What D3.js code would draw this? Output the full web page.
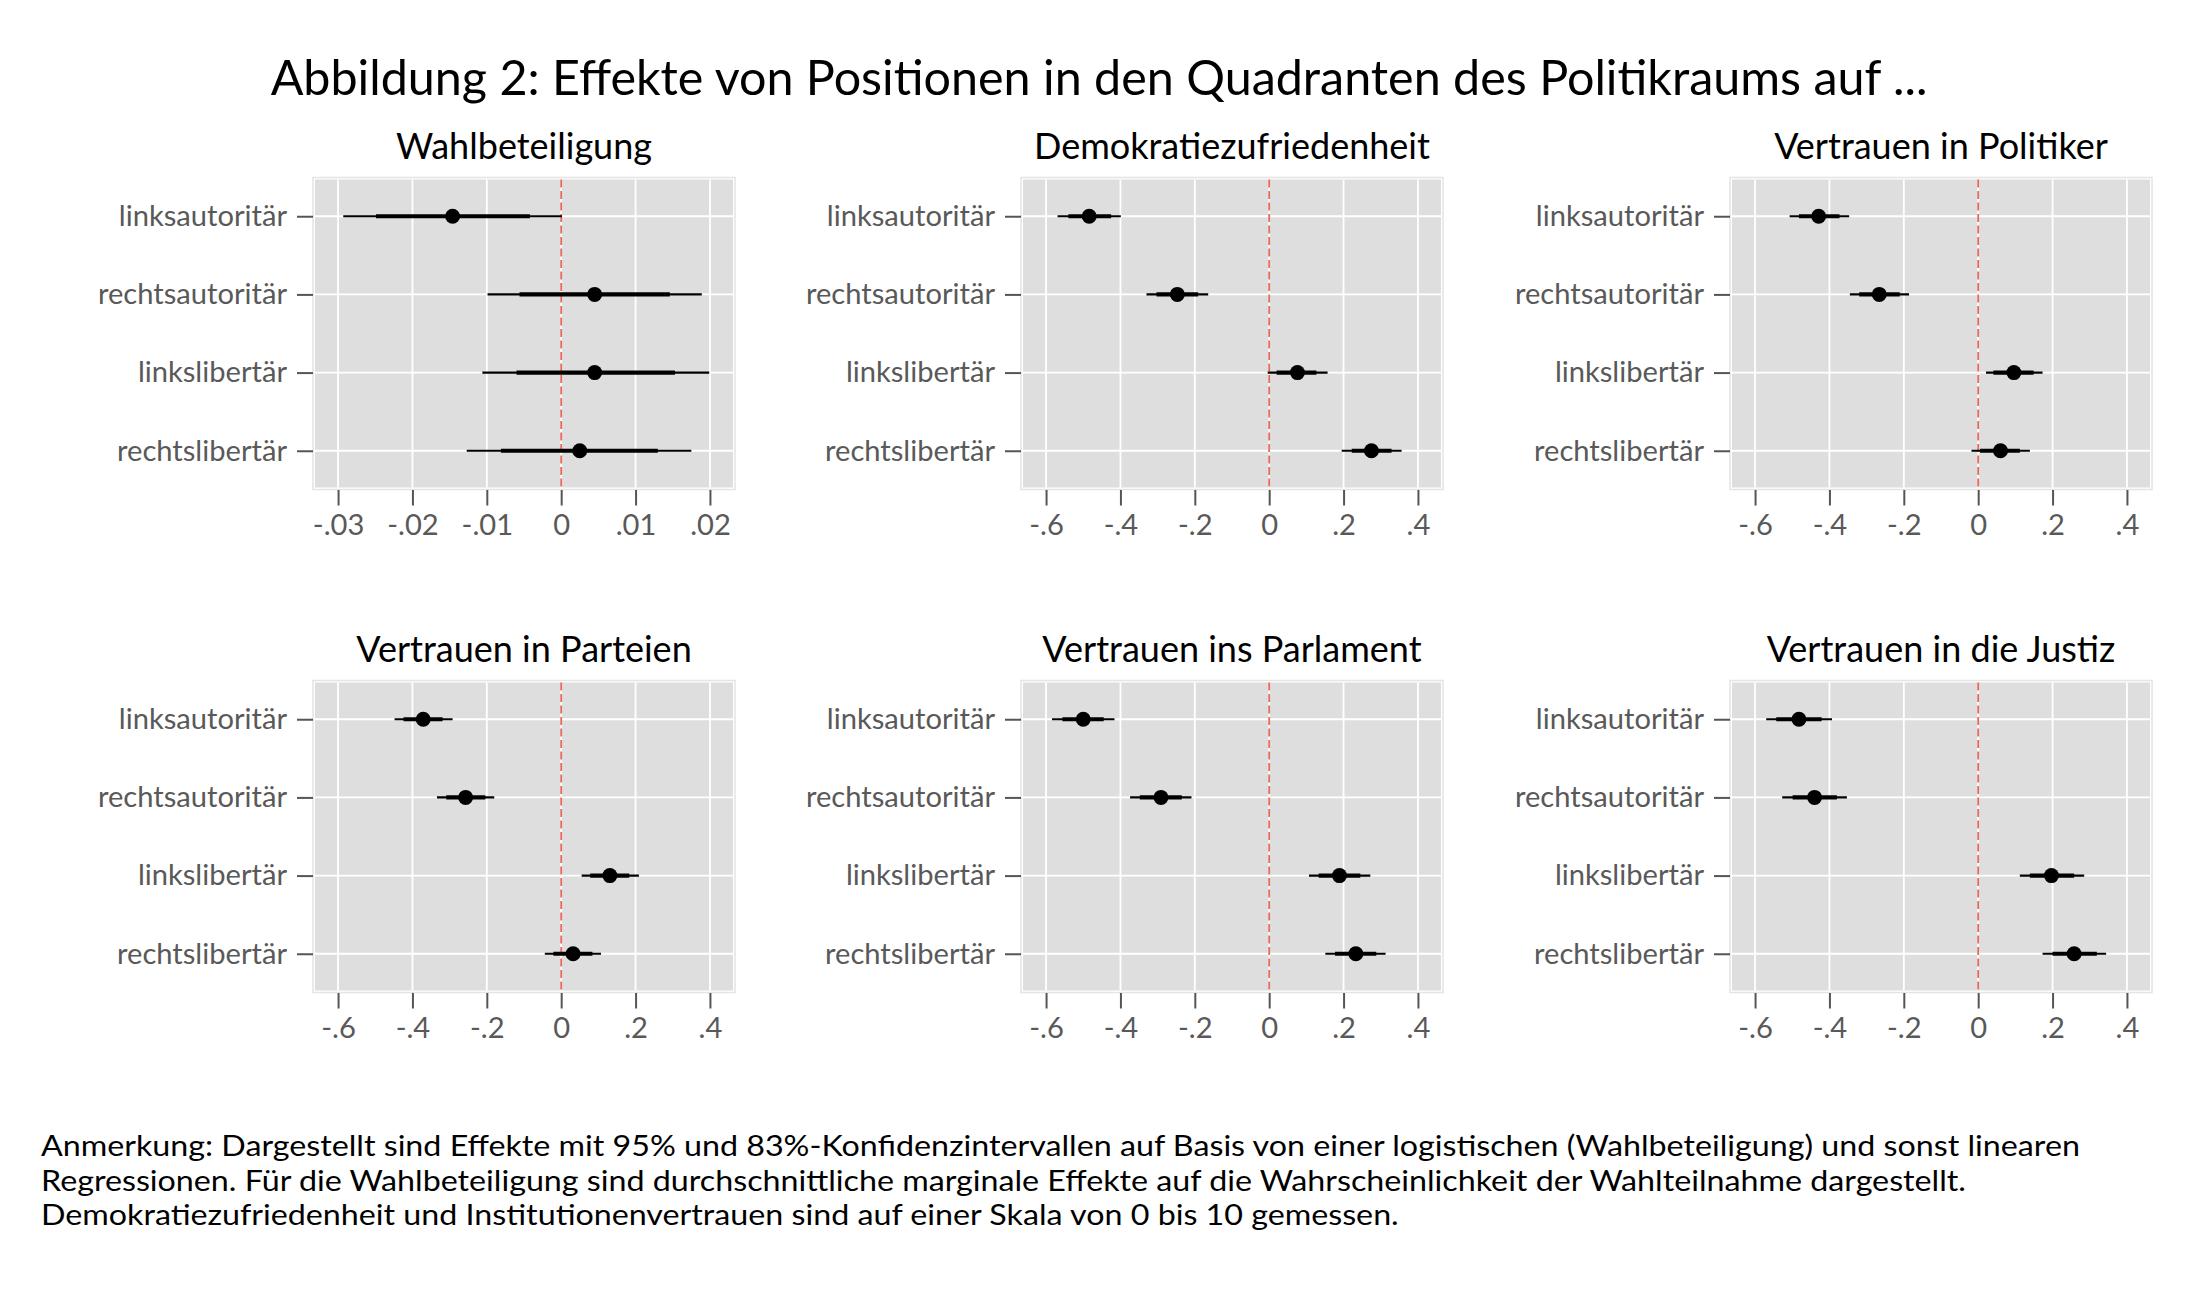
<!DOCTYPE html>
<html>
<head>
<meta charset="utf-8">
<script src="https://cdn.jsdelivr.net/npm/d3@7"></script>
<style>
  body { margin: 0; background: #fff; }
  text { font-family: Lato, "Open Sans", sans-serif; }
</style>
</head>
<body>
<svg width="2208" height="1305"></svg>
<script>

// categories and panels
var categories = ["linksautoritär", "rechtsautoritär", "linkslibertär", "rechtslibertär"];
var panelTitles = ["Wahlbeteiligung", "Demokratiezufriedenheit", "Vertrauen in Politiker",
                   "Vertrauen in Parteien", "Vertrauen ins Parlament", "Vertrauen in die Justiz"];

// point estimates, one array per panel (same order as categories)
var est = [
  [-0.0146, 0.0045, 0.0045, 0.0025],
  [-0.484, -0.247, 0.076, 0.275],
  [-0.429, -0.266, 0.096, 0.060],
  [-0.371, -0.257, 0.131, 0.032],
  [-0.500, -0.291, 0.189, 0.233],
  [-0.482, -0.440, 0.197, 0.258]
];
// 95% intervals
var lo95 = [
  [-0.0293, -0.0099, -0.0106, -0.0127],
  [-0.569, -0.330, -0.004, 0.195],
  [-0.507, -0.345, 0.021, -0.018],
  [-0.448, -0.334, 0.055, -0.044],
  [-0.584, -0.374, 0.107, 0.151],
  [-0.570, -0.527, 0.112, 0.173]
];
var hi95 = [
  [0.0001, 0.0189, 0.0199, 0.0175],
  [-0.399, -0.164, 0.157, 0.356],
  [-0.347, -0.186, 0.173, 0.139],
  [-0.292, -0.180, 0.209, 0.107],
  [-0.416, -0.209, 0.272, 0.313],
  [-0.393, -0.353, 0.285, 0.344]
];
// 83% intervals
var lo83 = [
  [-0.0249, -0.0056, -0.0060, -0.0081],
  [-0.540, -0.303, 0.020, 0.222],
  [-0.482, -0.320, 0.041, 0.005],
  [-0.424, -0.309, 0.078, -0.021],
  [-0.556, -0.348, 0.133, 0.177],
  [-0.543, -0.499, 0.139, 0.200]
];
var hi83 = [
  [-0.0042, 0.0146, 0.0153, 0.0130],
  [-0.425, -0.191, 0.127, 0.329],
  [-0.373, -0.211, 0.149, 0.112],
  [-0.319, -0.204, 0.183, 0.084],
  [-0.445, -0.235, 0.245, 0.288],
  [-0.421, -0.380, 0.258, 0.319]
];

// x ticks
var ticksTurnout = [-0.03, -0.02, -0.01, 0, 0.01, 0.02];
var tickLabelsTurnout = ["-.03", "-.02", "-.01", "0", ".01", ".02"];
var ticksScale = [-0.6, -0.4, -0.2, 0, 0.2, 0.4];
var tickLabelsScale = ["-.6", "-.4", "-.2", "0", ".2", ".4"];

var titleText = "Abbildung 2: Effekte von Positionen in den Quadranten des Politikraums auf ...";
var noteLines = [
  "Anmerkung: Dargestellt sind Effekte mit 95% und 83%-Konfidenzintervallen auf Basis von einer logistischen (Wahlbeteiligung) und sonst linearen",
  "Regressionen. Für die Wahlbeteiligung sind durchschnittliche marginale Effekte auf die Wahrscheinlichkeit der Wahlteilnahme dargestellt.",
  "Demokratiezufriedenheit und Institutionenvertrauen sind auf einer Skala von 0 bis 10 gemessen."
];

var svg = d3.select("svg");

// font size so that a text has a given width (Calibri-like metrics)
function fitSize(str, target) {
  var t = svg.append("text").attr("font-size", 100).text(str);
  var w = t.node().getComputedTextLength();
  t.remove();
  return 100 * target / w;
}
var fsTitle = fitSize(titleText, 1657),
    fsSub = fitSize("Demokratiezufriedenheit", 396),
    fsCat = fitSize("rechtsautoritär", 189),
    fsTick = fsCat,
    noteGap = 34.2,
    fsNoteFit = fitSize(noteLines[0], 2040),
    fsNote = Math.min(fsNoteFit, noteGap / 1.21),
    noteStretch = fsNoteFit / fsNote;

var lefts = [315, 1023, 1732], tops = [179.5, 682.5],
    pw = 418, ph = 308;

svg.append("text")
  .attr("x", 1099).attr("y", 78).attr("dy", "0.35em")
  .attr("text-anchor", "middle").attr("font-size", fsTitle)
  .attr("fill", "#000").text(titleText);

panelTitles.forEach(function(name, p) {
  var x0 = lefts[p % 3], y0 = tops[Math.floor(p / 3)];
  var g = svg.append("g").attr("transform", "translate(" + x0 + "," + y0 + ")");

  var x = d3.scaleLinear()
    .domain(p == 0 ? [-0.0331, 0.0231] : [-0.662, 0.462])
    .range([0, pw]);
  var y = d3.scalePoint().domain(categories).range([0, ph]).padding(0.47);
  var ticks = p == 0 ? ticksTurnout : ticksScale,
      tlabels = p == 0 ? tickLabelsTurnout : tickLabelsScale;

  // panel subtitle
  g.append("text")
    .attr("x", pw / 2).attr("y", -21)
    .attr("text-anchor", "middle").attr("font-size", fsSub)
    .text(name);

  // frame + background
  g.append("rect").attr("x", -2).attr("y", -2).attr("width", pw + 4).attr("height", ph + 4)
    .attr("fill", "none").attr("stroke", "#e4e4e4").attr("stroke-width", 1.5);
  g.append("rect").attr("width", pw).attr("height", ph).attr("fill", "#dedede");

  // grid
  g.selectAll(".vg").data(ticks).enter().append("line")
    .attr("x1", function(d) { return x(d); }).attr("x2", function(d) { return x(d); })
    .attr("y1", 0).attr("y2", ph).attr("stroke", "#fff").attr("stroke-width", 1.8);
  g.selectAll(".hg").data(categories).enter().append("line")
    .attr("x1", 0).attr("x2", pw)
    .attr("y1", function(d) { return y(d); }).attr("y2", function(d) { return y(d); })
    .attr("stroke", "#fff").attr("stroke-width", 1.8);

  // zero line
  g.append("line")
    .attr("x1", x(0)).attr("x2", x(0)).attr("y1", 0).attr("y2", ph)
    .attr("stroke", "#e8695a").attr("stroke-width", 1.8).attr("stroke-dasharray", "8,3.5");

  // x axis
  var xAxis = d3.axisBottom(x).tickValues(ticks)
    .tickFormat(function(d, i) { return tlabels[i]; })
    .tickSize(15.5).tickPadding(9);
  var xa = g.append("g").attr("transform", "translate(0," + (ph + 2.5) + ")").call(xAxis);
  xa.select(".domain").remove();
  xa.selectAll("line").attr("stroke", "#555").attr("stroke-width", 2);
  xa.selectAll("text").attr("font-size", fsTick).attr("fill", "#595959")
    .attr("font-family", "Lato, 'Open Sans', sans-serif");

  // y axis
  var yAxis = d3.axisLeft(y).tickSize(16).tickPadding(10);
  var ya = g.append("g").attr("transform", "translate(-2,0)").call(yAxis);
  ya.select(".domain").remove();
  ya.selectAll("line").attr("stroke", "#555").attr("stroke-width", 2);
  ya.selectAll("text").attr("font-size", fsCat).attr("fill", "#595959")
    .attr("font-family", "Lato, 'Open Sans', sans-serif");

  // intervals and points
  var rows = categories.map(function(c, i) {
    return {c: c, e: est[p][i], l95: lo95[p][i], h95: hi95[p][i], l83: lo83[p][i], h83: hi83[p][i]};
  });
  var m = g.selectAll(".est").data(rows).enter().append("g");
  m.append("line")
    .attr("x1", function(d) { return x(d.l95); }).attr("x2", function(d) { return x(d.h95); })
    .attr("y1", function(d) { return y(d.c); }).attr("y2", function(d) { return y(d.c); })
    .attr("stroke", "#000").attr("stroke-width", 2.2);
  m.append("line")
    .attr("x1", function(d) { return x(d.l83); }).attr("x2", function(d) { return x(d.h83); })
    .attr("y1", function(d) { return y(d.c); }).attr("y2", function(d) { return y(d.c); })
    .attr("stroke", "#000").attr("stroke-width", 4.2);
  m.append("circle")
    .attr("cx", function(d) { return x(d.e); }).attr("cy", function(d) { return y(d.c); })
    .attr("r", 7.5).attr("fill", "#000");
});

// footnote (slightly widened glyphs so the lines keep their width)
svg.append("g")
  .attr("transform", "translate(41,0) scale(" + noteStretch + ",1)")
  .selectAll("text").data(noteLines).enter().append("text")
  .attr("x", 0).attr("y", function(d, i) { return 1156.5 + i * noteGap; })
  .attr("font-size", fsNote).attr("fill", "#000")
  .text(function(d) { return d; });

</script>
</body>
</html>
